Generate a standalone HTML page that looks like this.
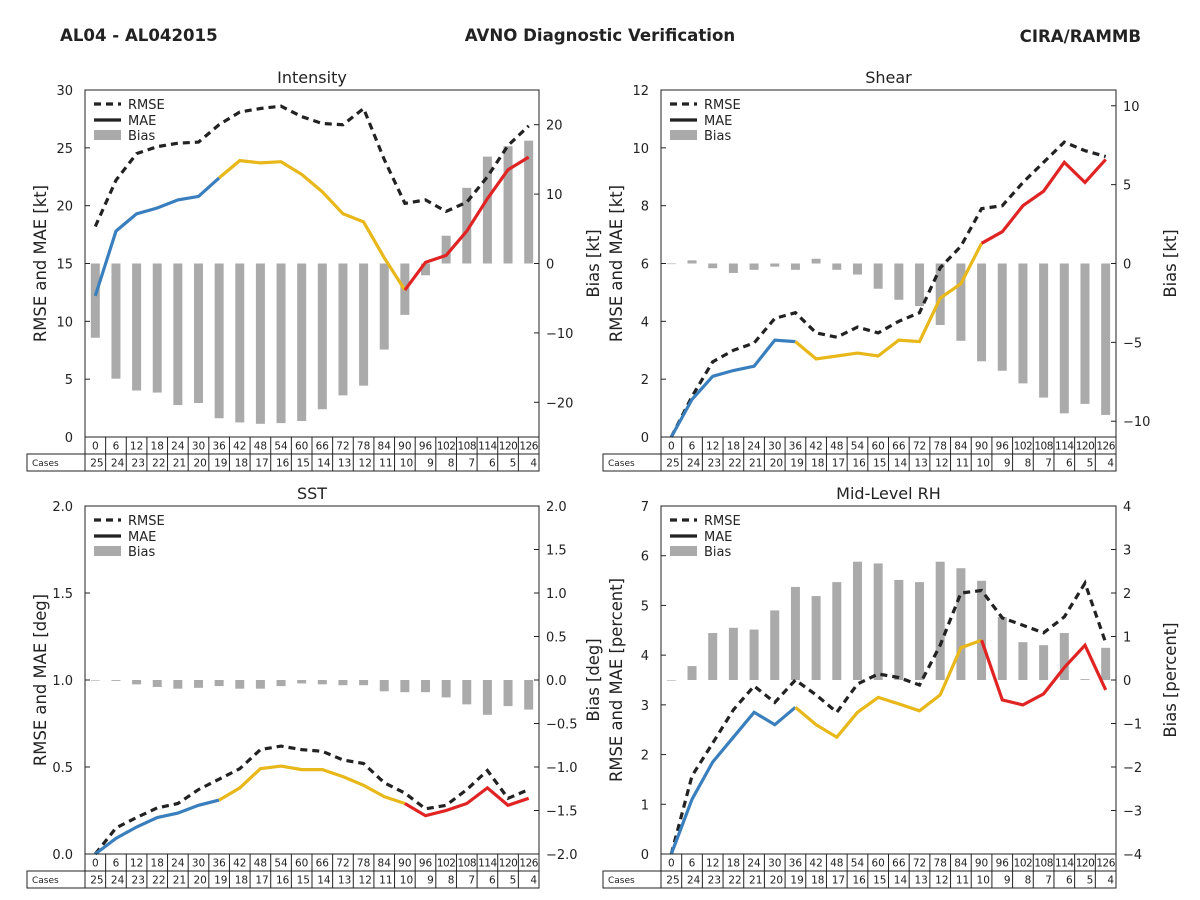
<!DOCTYPE html>
<html><head><meta charset="utf-8">
<style>
html,body{margin:0;padding:0;background:#fff;}
svg{display:block;font-family:"DejaVu Sans","Liberation Sans",sans-serif;}
</style></head>
<body>
<svg id="chart" width="1200" height="900" viewBox="0 0 1200 900">
<text x="60" y="41" font-size="16.6" font-weight="bold" fill="#222">AL04 - AL042015</text>
<text x="600" y="41" font-size="16.6" font-weight="bold" fill="#222" text-anchor="middle">AVNO Diagnostic Verification</text>
<text x="1141" y="42" font-size="16.6" font-weight="bold" fill="#222" text-anchor="end">CIRA/RAMMB</text>
</svg>
<script>
const leads = [0,6,12,18,24,30,36,42,48,54,60,66,72,78,84,90,96,102,108,114,120,126];
const cases = [25,24,23,22,21,20,19,18,17,16,15,14,13,12,11,10,9,8,7,6,5,4];

const intRmse = [18.2,22.2,24.5,25.1,25.4,25.5,27,28.1,28.4,28.6,27.7,27.1,27,28.4,24,20.2,20.5,19.5,20.3,22.5,25.2,26.9];
const intMae  = [12.2,17.8,19.3,19.8,20.5,20.8,22.4,23.9,23.7,23.8,22.7,21.2,19.3,18.6,15.5,12.7,15.1,15.7,17.8,20.6,23.1,24.2];
const intBias = [-10.7,-16.6,-18.3,-18.6,-20.4,-20.1,-22.3,-22.9,-23.1,-23,-22.7,-21,-19,-17.6,-12.4,-7.4,-1.7,4,10.9,15.4,16.9,17.7];

const shRmse = [0,1.4,2.6,3.0,3.25,4.1,4.3,3.6,3.45,3.8,3.6,4.0,4.3,5.85,6.6,7.9,8.0,8.8,9.5,10.2,9.9,9.7];
const shMae  = [0,1.3,2.1,2.3,2.45,3.35,3.3,2.7,2.8,2.9,2.8,3.35,3.3,4.8,5.3,6.7,7.1,8.0,8.5,9.5,8.8,9.6];
const shBias = [0,0.2,-0.3,-0.6,-0.4,-0.2,-0.4,0.3,-0.4,-0.7,-1.6,-2.3,-2.7,-3.9,-4.9,-6.2,-6.8,-7.6,-8.5,-9.5,-8.9,-9.6];

const sstRmse = [0,0.15,0.21,0.265,0.29,0.37,0.43,0.49,0.6,0.62,0.6,0.59,0.54,0.52,0.41,0.35,0.26,0.28,0.37,0.48,0.32,0.37];
const sstMae  = [0,0.09,0.155,0.21,0.235,0.28,0.31,0.38,0.49,0.505,0.485,0.485,0.445,0.395,0.33,0.29,0.22,0.25,0.29,0.38,0.28,0.32];
const sstBias = [0,-0.01,-0.05,-0.08,-0.1,-0.09,-0.07,-0.1,-0.1,-0.07,-0.04,-0.05,-0.06,-0.06,-0.13,-0.14,-0.14,-0.2,-0.28,-0.4,-0.3,-0.34];

const rhRmse = [0,1.57,2.23,2.9,3.38,3.05,3.5,3.2,2.85,3.42,3.62,3.55,3.4,4.2,5.25,5.3,4.75,4.6,4.45,4.77,5.45,4.25];
const rhMae  = [0,1.1,1.85,2.35,2.85,2.6,2.95,2.6,2.35,2.85,3.15,3.02,2.88,3.2,4.15,4.3,3.1,3.0,3.22,3.75,4.2,3.3];
const rhBias = [0,0.32,1.08,1.2,1.16,1.6,2.14,1.93,2.25,2.72,2.68,2.3,2.25,2.72,2.57,2.28,1.45,0.87,0.8,1.08,0.02,0.74];

const intLeftTicks = ["0","5","10","15","20","25","30"];
const intRightTicks = ["−20","−10","0","10","20"];
const shLeftTicks = ["0","2","4","6","8","10","12"];
const shRightTicks = ["−10","−5","0","5","10"];
const sstLeftTicks = ["0.0","0.5","1.0","1.5","2.0"];
const sstRightTicks = ["−2.0","−1.5","−1.0","−0.5","0.0","0.5","1.0","1.5","2.0"];
const rhLeftTicks = ["0","1","2","3","4","5","6","7"];
const rhRightTicks = ["−4","−3","−2","−1","0","1","2","3","4"];

const NS = "http://www.w3.org/2000/svg";
const svg = document.getElementById('chart');
function mk(tag, attrs, parent, txt){
  const e = document.createElementNS(NS, tag);
  for (const k in attrs) e.setAttribute(k, attrs[k]);
  if (txt !== undefined) e.textContent = txt;
  (parent || svg).appendChild(e);
  return e;
}

function panel(p){
  const g = mk('g', {});
  
  
  const L=p.x0, R=p.x1, T=p.y0, B=p.y1;
  const n = leads.length, w = (R-L)/n;
  const xs = i => L + (i+0.5)*w;
  const yl = v => B - (v - p.lmin)/(p.lmax - p.lmin)*(B-T);
  const yr = v => B - (v - p.rmin)/(p.rmax - p.rmin)*(B-T);
  mk('text', {x:(L+R)/2, y:T-7, 'font-size':16, 'text-anchor':'middle', fill:'#222'}, g, p.title);
  p.bias.forEach((v,i)=>{
    const y0 = yr(0), y1 = yr(v);
    const b = mk('rect', {x:xs(i)-4.5, y:Math.min(y0,y1), width:9, height:Math.max(Math.abs(y1-y0),0.6), fill:'#aaaaaa'}, g);
    
    
  });
  const rp = p.rmse.map((v,i)=>xs(i).toFixed(1)+','+yl(v).toFixed(1)).join(' ');
  const rl = mk('polyline', {points:rp, fill:'none', stroke:'#222', 'stroke-width':3.2, 'stroke-dasharray':'7,5'}, g);
  
  
  const segs = [[0,6,'#3a7fbd'],[6,15,'#e8b71a'],[15,21,'#e02424']];
  segs.forEach(s=>{
    const pts=[];
    for(let i=s[0];i<=s[1];i++) pts.push(xs(i).toFixed(1)+','+yl(p.mae[i]).toFixed(1));
    const m = mk('polyline', {points:pts.join(' '), fill:'none', stroke:s[2], 'stroke-width':3.2}, g);
    
    
  });
  mk('rect', {x:L, y:T, width:R-L, height:B-T, fill:'none', stroke:'#222', 'stroke-width':1}, g);
  p.lticks.forEach((t,i)=>{
    const v = p.lmin + i*(p.lmax-p.lmin)/(p.lticks.length-1);
    const y = yl(v);
    mk('line', {x1:L, x2:L+5, y1:y, y2:y, stroke:'#222'}, g);
    mk('text', {x:L-12, y:y+5, 'font-size':13, 'text-anchor':'end', fill:'#222'}, g, t);
  });
  p.rticks.forEach((t,i)=>{
    const v = p.rtmin + i*p.rtstep;
    const y = yr(v);
    mk('line', {x1:R-5, x2:R, y1:y, y2:y, stroke:'#222'}, g);
    mk('text', {x:R+7, y:y+5, 'font-size':13, fill:'#222'}, g, t);
  });
  const cyl = (T+B)/2;
  mk('text', {x:0, y:0, 'font-size':16.4, 'text-anchor':'middle', fill:'#222', transform:`translate(${L-39},${cyl}) rotate(-90)`}, g, p.llabel);
  mk('text', {x:0, y:0, 'font-size':16.4, 'text-anchor':'middle', fill:'#222', transform:`translate(${R+60},${cyl}) rotate(-90)`}, g, p.rlabel);
  const lx=L+9;
  mk('line',{x1:lx,x2:lx+27,y1:T+14,y2:T+14,stroke:'#222','stroke-width':3.2,'stroke-dasharray':'7,5'},g);
  mk('text',{x:lx+34,y:T+19,'font-size':13,fill:'#222'},g,'RMSE');
  mk('line',{x1:lx,x2:lx+27,y1:T+30,y2:T+30,stroke:'#222','stroke-width':3.2},g);
  mk('text',{x:lx+34,y:T+35,'font-size':13,fill:'#222'},g,'MAE');
  mk('rect',{x:lx,y:T+40,width:27,height:10,fill:'#aaaaaa'},g);
  mk('text',{x:lx+34,y:T+50,'font-size':13,fill:'#222'},g,'Bias');
  const tg = mk('g', {}, g);
  
  
  const r1=B, r2=B+17, r3=B+34;
  mk('rect',{x:L-58,y:r2,width:R-L+58,height:17,fill:'none',stroke:'#222'},tg);
  mk('rect',{x:L,y:r1,width:R-L,height:17,fill:'none',stroke:'#222'},tg);
  mk('text',{x:L-53,y:r2+12,'font-size':9,fill:'#222'},tg,'Cases');
  for(let i=0;i<=n;i++){
    const x=L+i*w;
    mk('line',{x1:x,x2:x,y1:r1,y2:r3,stroke:'#222'},tg);
  }
  leads.forEach((v,i)=>{
    mk('text',{x:xs(i),y:r1+12.5,'font-size':10.5,'text-anchor':'middle',fill:'#222','letter-spacing':v>=100?'-0.5':'0'},tg,String(v));
    mk('text',{x:L+(i+1)*w-2,y:r2+12.5,'font-size':10.5,'text-anchor':'end',fill:'#222'},tg,String(cases[i]));
  });
}

panel({name:'intensity',title:'Intensity',x0:85,x1:539,y0:90,y1:437,lmin:0,lmax:30,rmin:-25,rmax:25,
  lticks:intLeftTicks,rticks:intRightTicks,rtmin:-20,rtstep:10,rmse:intRmse,mae:intMae,bias:intBias,
  llabel:'RMSE and MAE [kt]',rlabel:'Bias [kt]'});
panel({name:'shear',title:'Shear',x0:661,x1:1116,y0:90,y1:437,lmin:0,lmax:12,rmin:-11,rmax:11,
  lticks:shLeftTicks,rticks:shRightTicks,rtmin:-10,rtstep:5,rmse:shRmse,mae:shMae,bias:shBias,
  llabel:'RMSE and MAE [kt]',rlabel:'Bias [kt]'});
panel({name:'sst',title:'SST',x0:85,x1:539,y0:506,y1:854,lmin:0,lmax:2,rmin:-2,rmax:2,
  lticks:sstLeftTicks,rticks:sstRightTicks,rtmin:-2,rtstep:0.5,rmse:sstRmse,mae:sstMae,bias:sstBias,
  llabel:'RMSE and MAE [deg]',rlabel:'Bias [deg]'});
panel({name:'mid-level-rh',title:'Mid-Level RH',x0:661,x1:1116,y0:506,y1:854,lmin:0,lmax:7,rmin:-4,rmax:4,
  lticks:rhLeftTicks,rticks:rhRightTicks,rtmin:-4,rtstep:1,rmse:rhRmse,mae:rhMae,bias:rhBias,
  llabel:'RMSE and MAE [percent]',rlabel:'Bias [percent]'});
</script>
</body></html>
